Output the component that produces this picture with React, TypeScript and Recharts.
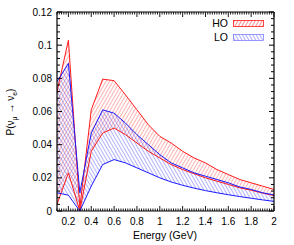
import React from 'react';
import { ComposedChart, Area, Line, XAxis, YAxis } from 'recharts';

const ENERGY = [0.1, 0.2, 0.3, 0.4, 0.5, 0.6, 0.7, 0.8, 0.9, 1.0, 1.1, 1.2, 1.3, 1.4, 1.5, 1.6, 1.7, 1.8, 1.9, 2.0];
const HO_UPPER = [0.072, 0.103, 0.002, 0.061, 0.0795, 0.0786, 0.070, 0.061, 0.052, 0.045, 0.041, 0.036, 0.032, 0.029, 0.025, 0.022, 0.019, 0.017, 0.015, 0.013];
const HO_LOWER = [0.004, 0.023, 0.0, 0.036, 0.047, 0.050, 0.046, 0.041, 0.036, 0.032, 0.028, 0.025, 0.0225, 0.020, 0.018, 0.016, 0.014, 0.0125, 0.0108, 0.0093];
const LO_UPPER = [0.078, 0.089, 0.011, 0.047, 0.061, 0.059, 0.053, 0.046, 0.040, 0.034, 0.029, 0.026, 0.023, 0.021, 0.019, 0.017, 0.0145, 0.013, 0.011, 0.0097];
const LO_LOWER = [0.011, 0.0095, 0.0, 0.015, 0.028, 0.031, 0.029, 0.026, 0.023, 0.020, 0.0175, 0.0155, 0.0138, 0.0123, 0.011, 0.0098, 0.0087, 0.0077, 0.0067, 0.0058];

const X_MAJOR = [0.2, 0.4, 0.6, 0.8, 1, 1.2, 1.4, 1.6, 1.8, 2];
const X_LABELS = ['0.2', '0.4', '0.6', '0.8', '1', '1.2', '1.4', '1.6', '1.8', '2'];
const Y_MAJOR = [0, 0.02, 0.04, 0.06, 0.08, 0.1, 0.12];
const Y_LABELS = ['0', '0.02', '0.04', '0.06', '0.08', '0.1', '0.12'];
const LEGEND_NAMES = ['HO', 'LO'];

const X_TICKS: number[] = [];
for (let i = 5; i <= 100; i++) X_TICKS.push(Math.round(i * 0.02 * 1000) / 1000);
const Y_TICKS: number[] = [];
for (let i = 0; i <= 30; i++) Y_TICKS.push(Math.round(i * 0.004 * 10000) / 10000);

const data = ENERGY.map((e, i) => ({
  e,
  ho: [HO_LOWER[i], HO_UPPER[i]],
  lo: [LO_LOWER[i], LO_UPPER[i]],
  hoU: HO_UPPER[i],
  hoL: HO_LOWER[i],
  loU: LO_UPPER[i],
  loL: LO_LOWER[i],
}));

const RED = '#ff1a1a';
const BLUE = '#1a1aff';
const FONT = '"Liberation Sans", Arial, sans-serif';

const majorIdx = (arr: number[], v: number) => arr.findIndex((m) => Math.abs(m - v) < 1e-6);

const XTickBottom = (props: any) => {
  const { x, y, payload } = props;
  const idx = majorIdx(X_MAJOR, payload.value);
  return (
    <g>
      <line x1={x} x2={x} y1={y} y2={y - (idx >= 0 ? 5 : 2.5)} stroke="#000" strokeWidth={0.9} />
      {idx >= 0 && (
        <text x={x} y={y + 14} textAnchor="middle" fontSize={10} fontFamily={FONT} fill="#000">
          {X_LABELS[idx]}
        </text>
      )}
    </g>
  );
};

const XTickTop = (props: any) => {
  const { x, y, payload } = props;
  const idx = majorIdx(X_MAJOR, payload.value);
  return <line x1={x} x2={x} y1={y} y2={y + (idx >= 0 ? 5 : 2.5)} stroke="#000" strokeWidth={0.9} />;
};

const YTickLeft = (props: any) => {
  const { x, y, payload } = props;
  const idx = majorIdx(Y_MAJOR, payload.value);
  return (
    <g>
      <line x1={x} x2={x + (idx >= 0 ? 5 : 3)} y1={y} y2={y} stroke="#000" strokeWidth={1} />
      {idx >= 0 && (
        <text x={x - 5} y={y + 3.5} textAnchor="end" fontSize={10} fontFamily={FONT} fill="#000">
          {Y_LABELS[idx]}
        </text>
      )}
    </g>
  );
};

const YTickRight = (props: any) => {
  const { x, y, payload } = props;
  const idx = majorIdx(Y_MAJOR, payload.value);
  return <line x1={x} x2={x - (idx >= 0 ? 5 : 3)} y1={y} y2={y} stroke="#000" strokeWidth={1} />;
};

export default function App() {
  return (
    <div style={{ position: 'absolute', left: 0, top: 0, width: 294, height: 245, background: '#fff' }}>
      <ComposedChart
        width={294}
        height={245}
        data={data}
        margin={{ top: 0, right: 0, bottom: 0, left: 0 }}
      >
        <defs>
          <pattern id="hatchRed" patternUnits="userSpaceOnUse" width="3" height="3" patternTransform="rotate(30)">
            <line x1="0" y1="0" x2="0" y2="3" stroke={RED} strokeWidth="0.9" strokeOpacity="0.75" />
          </pattern>
          <pattern id="hatchBlue" patternUnits="userSpaceOnUse" width="3" height="3" patternTransform="rotate(-30)">
            <line x1="0" y1="0" x2="0" y2="3" stroke={BLUE} strokeWidth="0.9" strokeOpacity="0.75" />
          </pattern>
        </defs>
        <XAxis
          xAxisId="b"
          dataKey="e"
          type="number"
          domain={[0.1, 2]}
          ticks={X_TICKS}
          interval={0}
          tick={<XTickBottom />}
          tickSize={0}
          tickMargin={0}
          tickLine={false}
          axisLine={{ stroke: '#000', strokeWidth: 1.2 }}
          height={34}
          allowDataOverflow
        />
        <XAxis
          xAxisId="t"
          orientation="top"
          dataKey="e"
          type="number"
          domain={[0.1, 2]}
          ticks={X_TICKS}
          interval={0}
          tick={<XTickTop />}
          tickSize={0}
          tickMargin={0}
          tickLine={false}
          axisLine={{ stroke: '#000', strokeWidth: 1.2 }}
          height={12}
          allowDataOverflow
        />
        <YAxis
          yAxisId="l"
          type="number"
          domain={[0, 0.12]}
          ticks={Y_TICKS}
          interval={0}
          tick={<YTickLeft />}
          tickSize={0}
          tickMargin={0}
          tickLine={false}
          axisLine={{ stroke: '#000', strokeWidth: 1.2 }}
          width={57}
          allowDataOverflow
        />
        <YAxis
          yAxisId="r"
          orientation="right"
          type="number"
          domain={[0, 0.12]}
          ticks={Y_TICKS}
          interval={0}
          tick={<YTickRight />}
          tickSize={0}
          tickMargin={0}
          tickLine={false}
          axisLine={{ stroke: '#000', strokeWidth: 1.2 }}
          width={20}
          allowDataOverflow
        />
        <Area xAxisId="b" yAxisId="l" type="linear" dataKey="ho" fill="url(#hatchRed)" fillOpacity={1} stroke="none" isAnimationActive={false} />
        <Area xAxisId="b" yAxisId="l" type="linear" dataKey="lo" fill="url(#hatchBlue)" fillOpacity={1} stroke="none" isAnimationActive={false} />
        <Line xAxisId="b" yAxisId="l" type="linear" dataKey="hoU" stroke={RED} strokeWidth={1} dot={false} isAnimationActive={false} />
        <Line xAxisId="b" yAxisId="l" type="linear" dataKey="hoL" stroke={RED} strokeWidth={1} dot={false} isAnimationActive={false} />
        <Line xAxisId="b" yAxisId="l" type="linear" dataKey="loU" stroke={BLUE} strokeWidth={1} dot={false} isAnimationActive={false} />
        <Line xAxisId="b" yAxisId="l" type="linear" dataKey="loL" stroke={BLUE} strokeWidth={1} dot={false} isAnimationActive={false} />
      </ComposedChart>
      <svg width={294} height={245} style={{ position: 'absolute', left: 0, top: 0, pointerEvents: 'none' }}>
        <defs>
          <pattern id="lgRed" patternUnits="userSpaceOnUse" width="3" height="3" patternTransform="rotate(30)">
            <line x1="0" y1="0" x2="0" y2="3" stroke={RED} strokeWidth="1" />
          </pattern>
          <pattern id="lgBlue" patternUnits="userSpaceOnUse" width="3" height="3" patternTransform="rotate(-30)">
            <line x1="0" y1="0" x2="0" y2="3" stroke={BLUE} strokeWidth="1" strokeOpacity="0.7" />
          </pattern>
        </defs>
        <text x={228} y={27} textAnchor="end" fontSize={10.5} fontFamily={FONT} fill="#000">{LEGEND_NAMES[0]}</text>
        <rect x={233.5} y={20.5} width={30} height={6} fill="url(#lgRed)" stroke={RED} strokeWidth={0.8} />
        <text x={228} y={41} textAnchor="end" fontSize={10.5} fontFamily={FONT} fill="#000">{LEGEND_NAMES[1]}</text>
        <rect x={233.5} y={34.5} width={30} height={6} fill="url(#lgBlue)" stroke={BLUE} strokeWidth={0.6} strokeOpacity={0.7} />
        <text
          transform="translate(14,112) rotate(-90)"
          textAnchor="middle"
          fontSize={10}
          fontFamily={FONT}
          fill="#000"
        >
          P(ν<tspan fontSize={7} dy={2.5}>μ</tspan>
          <tspan dy={-2.5}> → ν</tspan>
          <tspan fontSize={7} dy={2.5}>e</tspan>
          <tspan dy={-2.5}>)</tspan>
        </text>
        <text x={165} y={239} textAnchor="middle" fontSize={10.5} fontFamily={FONT} fill="#000">
          Energy (GeV)
        </text>
      </svg>
    </div>
  );
}
